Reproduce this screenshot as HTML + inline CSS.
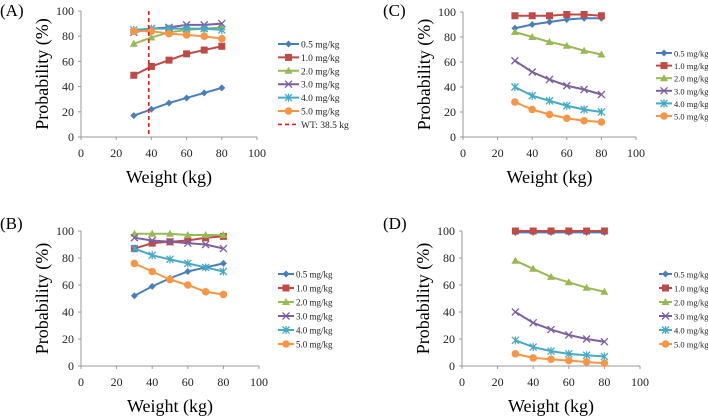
<!DOCTYPE html>
<html><head><meta charset="utf-8">
<style>
html,body{margin:0;padding:0;background:#fff;}
svg{display:block;}
svg text{font-family:"Liberation Serif","Noto Serif CJK SC","Times New Roman",Times,serif !important;}
</style></head>
<body>
<svg id="c" width="708" height="417" viewBox="0 0 708 417" xmlns="http://www.w3.org/2000/svg"></svg>
<script>
const weights = [30,40,50,60,70,80];
const seriesNames = ["0.5 mg/kg","1.0 mg/kg","2.0 mg/kg","3.0 mg/kg","4.0 mg/kg","5.0 mg/kg"];
const xTicks = [0,20,40,60,80,100];
const yTicks = [0,20,40,60,80,100];
const wtLine = 38.5;
const panelA = [[17,22,27,31,35,39],[49,56,61,66,69,72],[74,79,83,85,86,87],[83,86,87,89,89,90],[85,86,86,86,86,85],[84,84,82,81,80,78]];
const panelB = [[52,59,65,70,73,76],[87,91,92,93,95,96],[98,98,98,97,97,97],[95,93,92,91,90,87],[87,82,79,76,73,70],[76,70,64,60,55,53]];
const panelC = [[87,90,92,94,95,95],[97,97,97,98,98,97],[84,80,76,73,69,66],[61,52,46,41,38,34],[40,33,29,25,22,20],[28,22,18,15,13,12]];
const panelD = [[99,99,99,99,99,99],[100,100,100,100,100,100],[78,72,66,62,58,55],[40,32,27,23,20,18],[19,14,11,9,8,7],[9,6,5,4,3,2]];

const colors=["#4a7ebb","#be4b48","#98b954","#7d60a0","#46aac5","#f79646"];
const markers=["diamond","square","triangle","x","star","circle"];
const NS="http://www.w3.org/2000/svg";
const svg=document.getElementById('c');
function el(tag,attrs,parent){const e=document.createElementNS(NS,tag);for(const k in attrs)e.setAttribute(k,attrs[k]);if(tag==='text')e.style.fontFamily='"Liberation Serif","Noto Serif CJK SC",serif';(parent||svg).appendChild(e);return e;}
function marker(g,type,x,y,col){
  let m;
  if(type==="diamond")m=el('polygon',{points:`${x},${y-3.5} ${x+3.5},${y} ${x},${y+3.5} ${x-3.5},${y}`,fill:col},g);
  else if(type==="square")m=el('rect',{x:x-3.5,y:y-3.5,width:7,height:7,fill:col},g);
  else if(type==="triangle")m=el('polygon',{points:`${x},${y-4} ${x+4},${y+3} ${x-4},${y+3}`,fill:col},g);
  else if(type==="x")m=el('path',{d:`M${x-3.5},${y-3.5}L${x+3.5},${y+3.5}M${x-3.5},${y+3.5}L${x+3.5},${y-3.5}`,stroke:col,'stroke-width':1.3},g);
  else if(type==="star")m=el('path',{d:`M${x-3.5},${y-3.5}L${x+3.5},${y+3.5}M${x-3.5},${y+3.5}L${x+3.5},${y-3.5}M${x},${y-4}L${x},${y+4}`,stroke:col,'stroke-width':1.3},g);
  else m=el('circle',{cx:x,cy:y,r:3.8,fill:col},g);
  
  
}
function panel(cfg){
  const g=el('g',{});
  
  
  const sx=v=>cfg.x0+(cfg.x1-cfg.x0)*v/100;
  const sy=v=>cfg.y0-(cfg.y0-cfg.y1)*v/100;
  const lab=el('text',{x:cfg.lx,y:cfg.ly,'font-size':17,fill:'#000'},g);lab.textContent='('+cfg.id.toUpperCase()+')';
  
  const ax=el('path',{d:`M${cfg.x0},${sy(100)}V${cfg.y0}H${cfg.x1}`,stroke:'#999','stroke-width':1,fill:'none'},g);
  
  yTicks.forEach(t=>{
    el('line',{x1:cfg.x0-3,x2:cfg.x0,y1:sy(t),y2:sy(t),stroke:'#999'},g);
    const tx=el('text',{x:cfg.x0-7,y:sy(t)+4,'font-size':12,'text-anchor':'end',fill:'#222'},g);tx.textContent=t;
    
  });
  xTicks.forEach(t=>{
    el('line',{x1:sx(t),x2:sx(t),y1:cfg.y0,y2:cfg.y0+3,stroke:'#999'},g);
    const tx=el('text',{x:sx(t),y:cfg.y0+20,'font-size':12,'text-anchor':'middle',fill:'#222'},g);tx.textContent=t;
    
  });
  const xt=el('text',{x:(cfg.x0+cfg.x1)/2,y:cfg.y0+46,'font-size':18,'text-anchor':'middle',fill:'#000'},g);xt.textContent='Weight (kg)';
  
  const yc=(cfg.y0+sy(100))/2, yx=cfg.x0-33;
  const yt=el('text',{x:yx,y:yc,'font-size':18,'text-anchor':'middle',fill:'#000',transform:`rotate(-90 ${yx} ${yc})`},g);yt.textContent='Probability (%)';
  
  cfg.data.forEach((s,i)=>{
    const sg=el('g',{},g);
    
    
    el('polyline',{points:s.map((v,j)=>sx(weights[j])+','+sy(v)).join(' '),stroke:colors[i],'stroke-width':2,fill:'none'},sg);
    s.forEach((v,j)=>marker(sg,markers[i],sx(weights[j]),sy(v),colors[i]));
  });
  if(cfg.wt){
    const l=el('line',{x1:sx(wtLine),x2:sx(wtLine),y1:sy(100),y2:cfg.y0,stroke:'#e02020','stroke-width':1.6,'stroke-dasharray':'4,3'},g);
    
  }
  const lg=el('g',{},g);
  
  const names=cfg.wt?seriesNames.concat(['WT: 38.5 kg']):seriesNames;
  names.forEach((n,i)=>{
    const y=cfg.legY+i*cfg.legDy;
    const e=el('g',{},lg);
    
    if(i<6){
      el('line',{x1:cfg.legX,x2:cfg.legX+cfg.legW,y1:y,y2:y,stroke:colors[i],'stroke-width':2},e);
      marker(e,markers[i],cfg.legX+cfg.legW/2,y,colors[i]);
    } else {
      el('line',{x1:cfg.legX,x2:cfg.legX+cfg.legW,y1:y,y2:y,stroke:'#e02020','stroke-width':1.6,'stroke-dasharray':'4,3'},e);
    }
    const t=el('text',{x:cfg.legX+cfg.legW+2,y:y+3.5,'font-size':cfg.legF,fill:'#222'},e);t.textContent=n;
  });
}
panel({id:'a',data:panelA,x0:81,x1:257,y0:137,y1:11,lx:0,ly:16,legX:278,legW:21,legY:44,legDy:13.4,legF:9.5,wt:true});
panel({id:'c',data:panelC,x0:463,x1:636,y0:137,y1:12,lx:383,ly:16,legX:656,legW:16,legY:53,legDy:12.6,legF:8.5});
panel({id:'b',data:panelB,x0:81,x1:259,y0:366,y1:231,lx:0,ly:229,legX:278,legW:16,legY:274,legDy:14,legF:9});
panel({id:'d',data:panelD,x0:462,x1:640,y0:366,y1:231,lx:383,ly:229,legX:659,legW:13,legY:274,legDy:14,legF:8.5});
</script>
</body></html>
